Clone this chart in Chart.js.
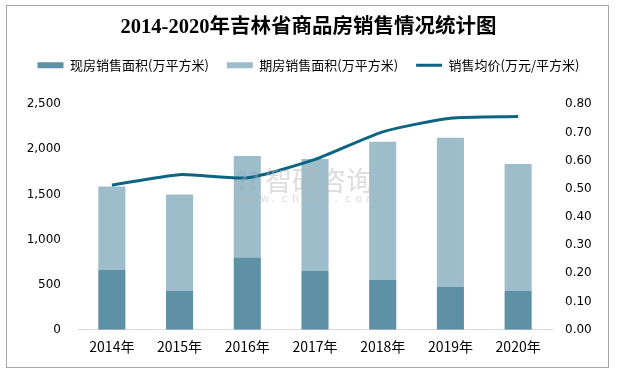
<!DOCTYPE html>
<html>
<head>
<meta charset="utf-8">
<script src="https://cdn.jsdelivr.net/npm/chart.js@4/dist/chart.umd.min.js"></script>
<style>
  body { margin: 0; background: #fff; }
  #wrap { position: relative; width: 617px; height: 374px; }
  #frame { position: absolute; left: 6px; top: 5px; width: 601px; height: 361px; border: 1px solid #a6a6a6; pointer-events: none; }
</style>
</head>
<body>
<div id="wrap">
  <canvas id="salesChart" width="617" height="374"></canvas>
  <div id="frame"></div>
</div>
<script>
// Data
const years = ['2014年', '2015年', '2016年', '2017年', '2018年', '2019年', '2020年'];
const spotArea = [664, 428, 800, 653, 552, 473, 428];        // 现房销售面积
const futuresArea = [924, 1070, 1126, 1239, 1531, 1655, 1408]; // 期房销售面积
const avgPrice = [0.513, 0.550, 0.539, 0.604, 0.702, 0.750, 0.756]; // 销售均价
const leftTicks = [0, 500, 1000, 1500, 2000, 2500];
const rightTicks = [0, 0.1, 0.2, 0.3, 0.4, 0.5, 0.6, 0.7, 0.8];

const cjk = '"Noto Sans CJK SC", sans-serif';

// push the plot area down below the legend
const legendGap = {
  id: 'legendGap',
  beforeLayout(chart) {
    const lg = chart.legend;
    if (lg && !lg._gapPatched) {
      const fit = lg.fit;
      lg.fit = function() {
        fit.call(this);
        this.height += 22.5;
      };
      lg._gapPatched = true;
    }
  }
};

// faint site watermark in the middle
const watermark = {
  id: 'watermark',
  afterDatasetsDraw(chart) {
    const ctx = chart.ctx;
    ctx.save();
    ctx.globalAlpha = 0.45;
    ctx.fillStyle = '#8fa9c4';
    ctx.font = 'bold 24px ' + cjk;
    ctx.textBaseline = 'middle';
    ctx.fillText('⁇', 236, 181);
    ctx.fillStyle = '#b4b4b4';
    ctx.font = '27px ' + cjk;
    ctx.fillText('智研咨询', 265, 181);
    ctx.font = '11px "DejaVu Sans"';
    const site = 'www.chyxx.com';
    for (let i = 0; i < site.length; i++) {
      ctx.fillText(site[i], 239 + i * 10.6, 199);
    }
    ctx.restore();
  }
};

new Chart(document.getElementById('salesChart'), {
  type: 'bar',
  data: {
    labels: years,
    datasets: [
      {
        label: '现房销售面积(万平方米)',
        data: spotArea,
        backgroundColor: '#5e90a6',
        borderWidth: 0,
        yAxisID: 'y',
        order: 1,
        pointStyle: 'rect'
      },
      {
        label: '期房销售面积(万平方米)',
        data: futuresArea,
        backgroundColor: '#9ebdca',
        borderWidth: 0,
        yAxisID: 'y',
        order: 1,
        pointStyle: 'rect'
      },
      {
        type: 'line',
        label: '销售均价(万元/平方米)',
        data: avgPrice,
        borderColor: '#0b6482',
        backgroundColor: '#0b6482',
        borderWidth: 3,
        pointRadius: 0,
        tension: 0.2,
        fill: false,
        yAxisID: 'y1',
        order: 0,
        pointStyle: 'line'
      }
    ]
  },
  options: {
    responsive: false,
    animation: false,
    layout: { padding: { left: 0, right: 0, top: 0, bottom: 9.5 } },
    datasets: {
      bar: { barPercentage: 0.4, categoryPercentage: 1 }
    },
    plugins: {
      title: {
        display: true,
        text: '2014-2020年吉林省商品房销售情况统计图',
        color: '#000',
        font: { family: '"Liberation Serif", "Noto Sans CJK SC", serif', size: 20.5, weight: 'bold', lineHeight: 1 },
        padding: { top: 17.5, bottom: 2.7 }
      },
      legend: {
        display: true,
        position: 'top',
        labels: {
          usePointStyle: true,
          pointStyleWidth: 26,
          boxHeight: 6,
          padding: 18,
          color: '#000',
          font: { family: cjk, size: 13 },
          sort: (a, b) => a.datasetIndex - b.datasetIndex
        }
      },
      tooltip: { enabled: false }
    },
    scales: {
      x: {
        stacked: true,
        grid: { display: false, drawTicks: false },
        border: { display: true, color: '#d9d9d9', width: 1 },
        ticks: { color: '#000', padding: 9, font: { family: cjk, size: 14 } }
      },
      y: {
        stacked: true,
        position: 'left',
        min: 0,
        max: 2500,
        afterBuildTicks: (axis) => { axis.ticks = leftTicks.map(v => ({ value: v })); },
        afterFit: (axis) => { axis.width = 78; },
        grid: { display: false, drawTicks: false },
        border: { display: false },
        ticks: {
          color: '#000',
          padding: 17,
          font: { family: '"DejaVu Sans"', size: 12 },
          callback: (v) => v.toLocaleString('en-US')
        }
      },
      y1: {
        position: 'right',
        min: 0,
        max: 0.8,
        afterBuildTicks: (axis) => { axis.ticks = rightTicks.map(v => ({ value: v })); },
        afterFit: (axis) => { axis.width = 65; },
        grid: { display: false, drawTicks: false },
        border: { display: false },
        ticks: {
          color: '#000',
          padding: 13,
          font: { family: '"DejaVu Sans"', size: 12 },
          callback: (v) => Number(v).toFixed(2)
        }
      }
    }
  },
  plugins: [legendGap, watermark]
});
</script>
</body>
</html>
